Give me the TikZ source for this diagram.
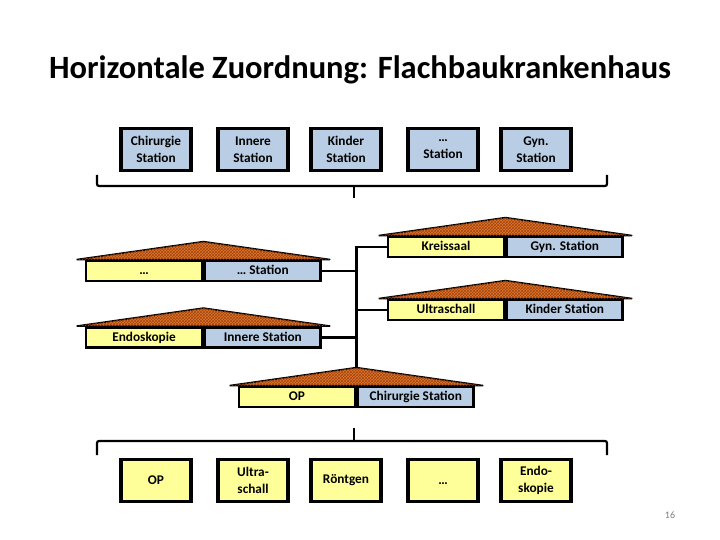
\documentclass[tikz,border=0pt]{standalone}
\usepackage{fontspec}
\setmainfont{Carlito}
\usetikzlibrary{patterns}
\definecolor{wingyellow}{RGB}{255,255,153}
\definecolor{wingblue}{RGB}{185,205,228}
\definecolor{rooforange}{RGB}{228,118,38}
\definecolor{roofdark}{RGB}{160,70,20}
\begin{document}
\begin{tikzpicture}[x=1pt,y=-1pt,
	unit/.style={draw,line width=3.2pt,minimum width=70pt,minimum height=42pt,inner sep=0pt,align=center,font=\fontsize{13.3}{17}\selectfont\bfseries},
	wing/.style={draw,line width=2.8pt,minimum width=116pt,minimum height=20pt,inner sep=0pt,text height=9pt,text depth=1.5pt,font=\fontsize{13.3}{15}\selectfont\bfseries},
	roof/.style={draw=black,line width=1.6pt,line join=miter,fill=rooforange,postaction={pattern=crosshatch,pattern color=roofdark}},
	link/.style={line width=2.4pt},
	brace/.style={line width=2.2pt,rounded corners=2pt}]
	\useasboundingbox (0,0) rectangle (720,540);
	\node[font=\fontsize{32.5}{38}\selectfont\bfseries] (title) at (360,70) {Horizontale Zuordnung: Flachbaukrankenhaus};
	\node[text=gray,font=\fontsize{10}{11}\selectfont] (page) at (670,515) {16};
	\begin{scope}[every node/.style={unit,fill=wingblue}]
		\node (t1) at (156,149.5) {Chirurgie\\Station};
		\node (t2) at (253,149.5) {Innere\\Station};
		\node (t3) at (346,149.5) {Kinder\\Station};
		\node (t4) at (443,149.5) {\dots\\Station};
		\node (t5) at (536,149.5) {Gyn.\\Station};
	\end{scope}
	\begin{scope}[every node/.style={unit,fill=wingyellow}]
		\node (b1) at (156,480.5) {OP};
		\node (b2) at (253,480.5) {Ultra-\\schall};
		\node (b3) at (346,480.5) {Röntgen};
		\node[text height=9pt,text depth=1.5pt] (b4) at (443,480.5) {\dots};
		\node (b5) at (536,480.5) {Endo-\\skopie};
	\end{scope}
	\node[wing,fill=wingyellow] (kreiss) at (446,247) {Kreissaal};
	\node[wing,fill=wingblue,anchor=west] (gyn) at (kreiss.east) {Gyn. Station};
	\node[wing,fill=wingyellow] (ultra) at (446,310) {Ultraschall};
	\node[wing,fill=wingblue,anchor=west] (kinder) at (ultra.east) {Kinder Station};
	\node[wing,fill=wingyellow] (dots) at (144,271) {\dots};
	\node[wing,fill=wingblue,anchor=west] (dotstat) at (dots.east) {\dots\ Station};
	\node[wing,fill=wingyellow] (endo) at (144,337.5) {Endoskopie};
	\node[wing,fill=wingblue,anchor=west] (innere) at (endo.east) {Innere Station};
	\node[wing,fill=wingyellow] (op) at (297,397) {OP};
	\node[wing,fill=wingblue,anchor=west] (chir) at (op.east) {Chirurgie Station};
	\foreach \a/\b in {kreiss/gyn,ultra/kinder,dots/dotstat,endo/innere,op/chir}
		\draw[roof] ([xshift=-8pt]\a.north west) -- ([yshift=18pt]\a.north east) -- ([xshift=8pt]\b.north east) -- cycle;
	\coordinate (peak) at ([yshift=18pt]op.north east);
	\draw[link] (kreiss.west) -| (peak);
	\draw[link] (ultra.west) -- (ultra.west -| peak);
	\draw[link] (dotstat.east) -- (dotstat.east -| peak);
	\draw[link] (innere.east) -- (innere.east -| peak);
	\coordinate (tl) at (97,175);
	\coordinate (tr) at (607,175);
	\coordinate (tm) at (354,198);
	\draw[brace] (tl) -- (tl |- 0,186) -- (tr |- 0,186) -- (tr);
	\draw[line width=2.2pt] (tm |- 0,186) -- (tm);
	\coordinate (bl) at (97,455);
	\coordinate (br) at (607,455);
	\coordinate (bm) at (354,428);
	\draw[brace] (bl) -- (bl |- 0,441) -- (br |- 0,441) -- (br);
	\draw[line width=2.2pt] (bm |- 0,441) -- (bm);
\end{tikzpicture}
\end{document}
